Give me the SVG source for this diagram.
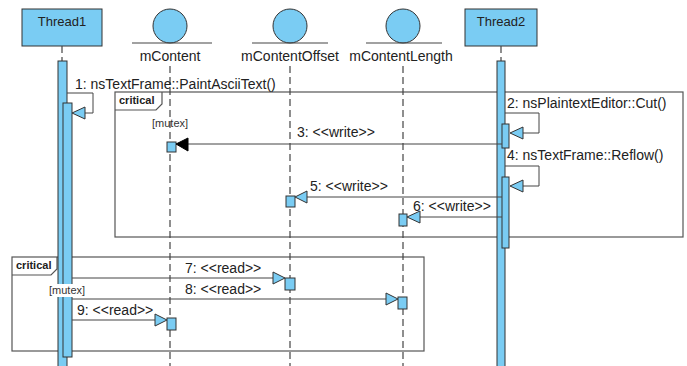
<svg xmlns="http://www.w3.org/2000/svg" width="687" height="366" viewBox="0 0 687 366">
<defs>
<style>
.hd{fill:#7accf3;stroke:#333;stroke-width:1}
.bar{fill:#7accf3;stroke:#333;stroke-width:1}
.life{stroke:#444;stroke-width:1.2;stroke-dasharray:7,4;fill:none}
.msg{stroke:#444;stroke-width:1;fill:none}
.open{fill:#7accf3;stroke:#333;stroke-width:1}
.fr{fill:none;stroke:#555;stroke-width:1.2}
.t{font-family:"Liberation Sans",Arial,sans-serif;font-size:14px;fill:#222}
.h{font-family:"Liberation Sans",Arial,sans-serif;font-size:13px;fill:#222}
.s{font-family:"Liberation Sans",Arial,sans-serif;font-size:11px;fill:#333}
.b{font-family:"Liberation Sans",Arial,sans-serif;font-size:11px;font-weight:bold;fill:#222}
</style>
</defs>
<rect width="687" height="366" fill="#fff"/>

<g id="frames">
<rect class="fr" x="115" y="92" width="568" height="145"/>
<path class="fr" d="M115,110 H156 L162,104 V92" fill="#fff"/>
<text class="b" x="119" y="104">critical</text>
<rect class="fr" x="12" y="257" width="412" height="94"/>
<path class="fr" d="M12,275 H51 L57,269 V257"/>
<text class="b" x="16" y="269">critical</text>
<text class="s" x="152" y="127">[mutex]</text>
</g>

<g id="thread1">
<rect class="hd" x="22" y="9" width="80" height="37"/>
<text class="h" x="62" y="26" text-anchor="middle">Thread1</text>
<line class="life" x1="62" y1="46" x2="62" y2="61"/>
<rect class="bar" x="58" y="61" width="9" height="310"/>
<rect class="bar" x="63" y="103" width="9" height="254"/>
</g>

<g id="mContent">
<circle class="hd" cx="170" cy="26" r="17"/>
<line x1="132" y1="43" x2="212" y2="43" stroke="#444" stroke-width="1.2"/>
<text class="t" x="170" y="61" text-anchor="middle">mContent</text>
<line class="life" x1="170" y1="66" x2="170" y2="366"/>
<rect class="bar" x="167" y="142" width="9" height="10"/>
<rect class="bar" x="167" y="318" width="9" height="12"/>
</g>

<g id="mContentOffset">
<circle class="hd" cx="290" cy="26" r="17"/>
<line x1="252" y1="43" x2="328" y2="43" stroke="#444" stroke-width="1.2"/>
<text class="t" x="290" y="61" text-anchor="middle">mContentOffset</text>
<line class="life" x1="290" y1="66" x2="290" y2="366"/>
<rect class="bar" x="286" y="196" width="9" height="11"/>
<rect class="bar" x="285" y="278" width="10" height="12"/>
</g>

<g id="mContentLength">
<circle class="hd" cx="403" cy="26" r="17"/>
<line x1="366" y1="43" x2="442" y2="43" stroke="#444" stroke-width="1.2"/>
<text class="t" x="401" y="61" text-anchor="middle">mContentLength</text>
<line class="life" x1="403" y1="66" x2="403" y2="366"/>
<rect class="bar" x="399" y="214" width="8" height="12"/>
<rect class="bar" x="398" y="297" width="9" height="12"/>
</g>

<g id="thread2">
<rect class="hd" x="465" y="9" width="72" height="37"/>
<text class="h" x="501" y="26" text-anchor="middle">Thread2</text>
<line class="life" x1="501" y1="46" x2="501" y2="61"/>
<rect class="bar" x="497" y="61" width="8" height="310"/>
<rect class="bar" x="502" y="124" width="7" height="24"/>
<rect class="bar" x="502" y="177" width="7" height="71"/>
</g>

<g id="guard2">
<rect x="48" y="284" width="40" height="13" fill="#fff"/>
<text class="s" x="49" y="294">[mutex]</text>
</g>

<g id="connectors">
<path class="msg" d="M67,93 H93 V113 H85"/>
<polygon class="open" points="72,113 85,107 85,119"/>
<text class="t" x="75" y="89">1: nsTextFrame::PaintAsciiText()</text>

<path class="msg" d="M505,113 H539 V133 H523"/>
<polygon class="open" points="510,133 523,127 523,139"/>
<text class="t" x="507" y="108">2: nsPlaintextEditor::Cut()</text>

<line class="msg" x1="502" y1="144" x2="188" y2="144"/>
<polygon points="176,144 188,138 188,151" fill="#000" stroke="#000"/>
<text class="t" x="297" y="137">3: &lt;&lt;write&gt;&gt;</text>

<path class="msg" d="M505,166 H539 V186 H523"/>
<polygon class="open" points="510,186 523,180 523,192"/>
<text class="t" x="507" y="160">4: nsTextFrame::Reflow()</text>

<line class="msg" x1="502" y1="197" x2="307" y2="197"/>
<polygon class="open" points="295,197 307,191 307,203"/>
<text class="t" x="310" y="191">5: &lt;&lt;write&gt;&gt;</text>

<line class="msg" x1="502" y1="217" x2="420" y2="217"/>
<polygon class="open" points="407,217 420,211 420,223"/>
<text class="t" x="413" y="211">6: &lt;&lt;write&gt;&gt;</text>

<line class="msg" x1="72" y1="278" x2="273" y2="278"/>
<polygon class="open" points="285,278 273,272 273,284"/>
<text class="t" x="185" y="273">7: &lt;&lt;read&gt;&gt;</text>

<line class="msg" x1="72" y1="299" x2="386" y2="299"/>
<polygon class="open" points="398,299 386,293 386,305"/>
<text class="t" x="185" y="294">8: &lt;&lt;read&gt;&gt;</text>

<line class="msg" x1="72" y1="320" x2="155" y2="320"/>
<polygon class="open" points="167,320 155,314 155,326"/>
<text class="t" x="77" y="315">9: &lt;&lt;read&gt;&gt;</text>
</g>
</svg>
